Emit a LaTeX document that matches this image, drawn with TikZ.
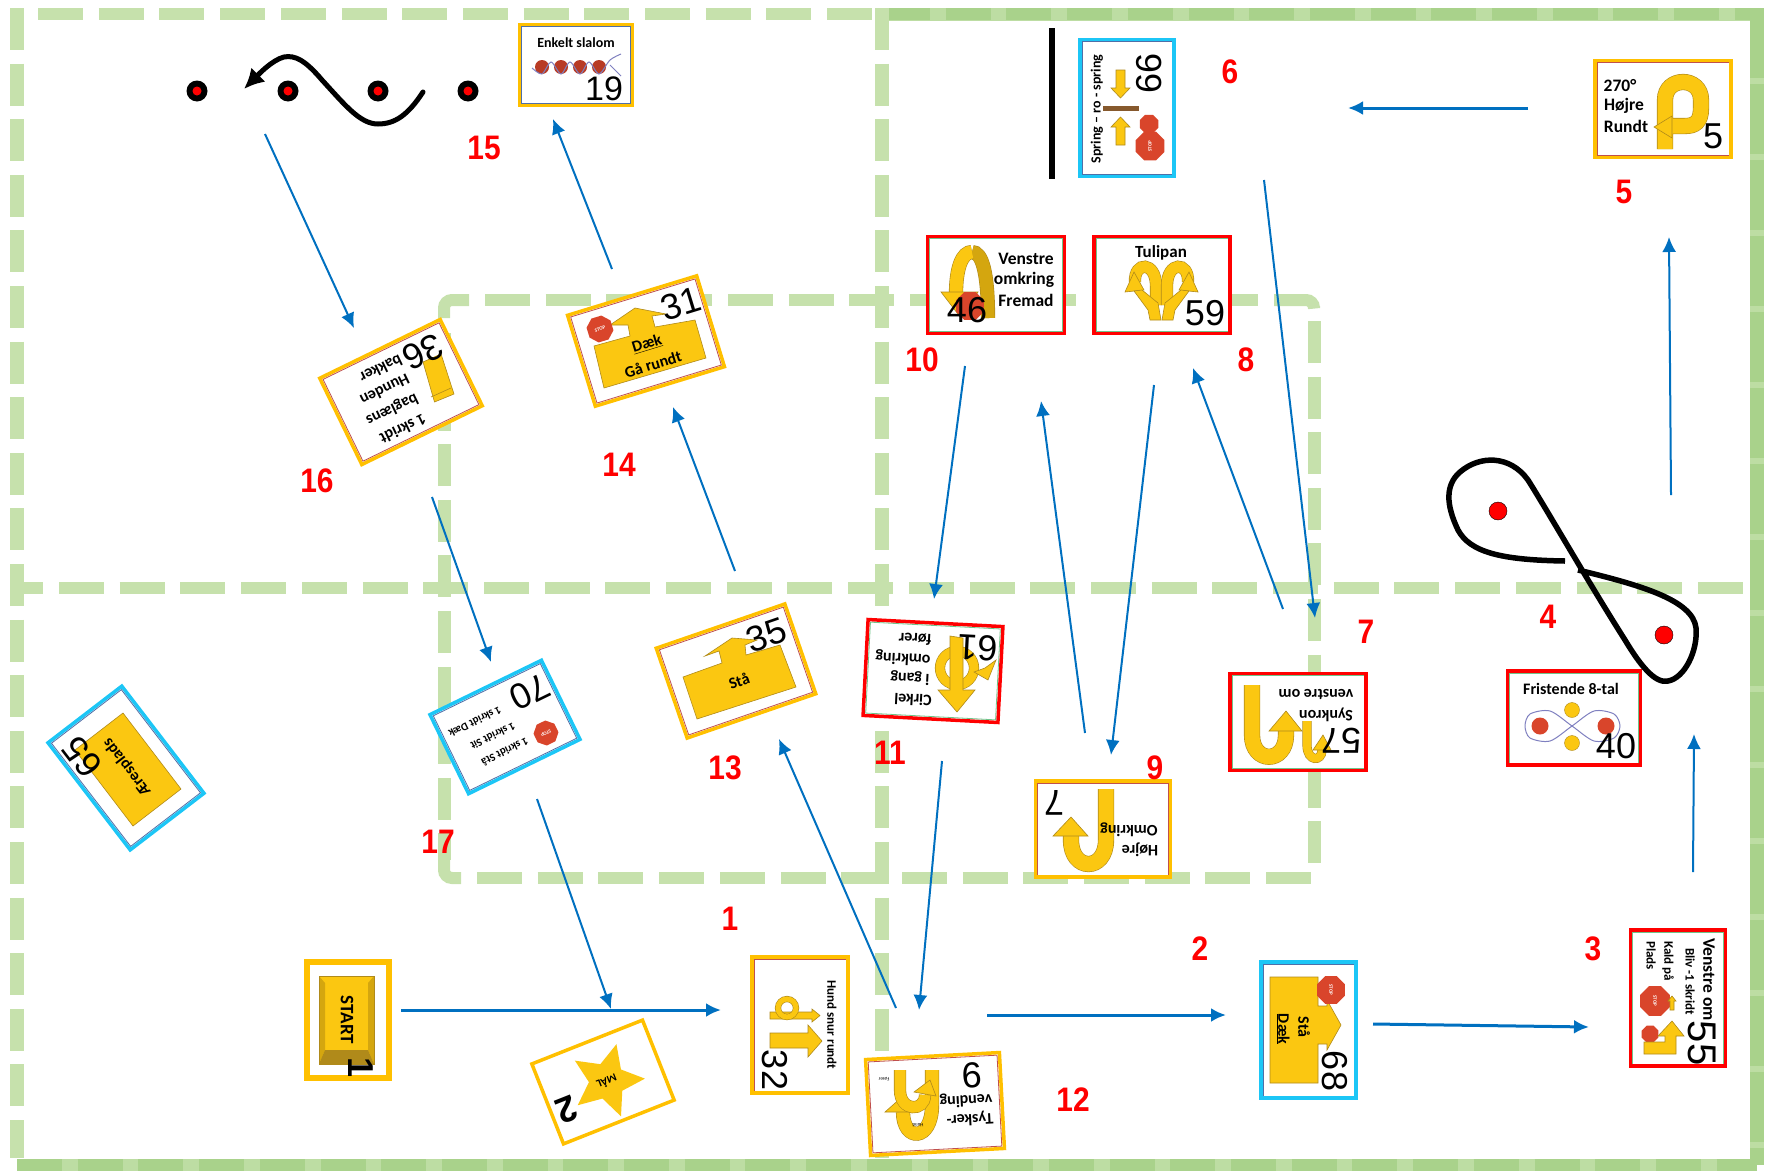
\documentclass[tikz,border=0pt]{standalone}
\usepackage{fontspec}
\setmainfont{Carlito}
\newfontfamily\numfont{Liberation Sans}
\newfontfamily\stepfont[FakeStretch=0.88]{Liberation Sans}
\usetikzlibrary{arrows.meta,shapes.geometric}
\definecolor{gline}{HTML}{C6E1AC}
\definecolor{gdense}{HTML}{BDDDA3}
\definecolor{gdark}{HTML}{A9D28B}
\definecolor{cardorange}{HTML}{FFC000}
\definecolor{cardred}{HTML}{FF0000}
\definecolor{cardcyan}{HTML}{1CC6F6}
\definecolor{rimred}{HTML}{C0504D}
\definecolor{rimgreen}{HTML}{70C48A}
\definecolor{rimblue}{HTML}{4F6FA8}
\definecolor{signyellow}{HTML}{FBC711}
\definecolor{signdark}{HTML}{D4A60F}
\definecolor{signedge}{HTML}{B08A1A}
\definecolor{stopred}{HTML}{D9452B}
\definecolor{flowblue}{HTML}{0070C0}
\definecolor{wavepurple}{HTML}{7F80C0}
\tikzset{
  hdash/.style={gline,line width=11.5pt,dash pattern=on 45pt off 15.7pt},
  vdash/.style={gline,line width=14pt,dash pattern=on 42pt off 13.6pt},
  hdense/.style={gdark,line width=11.5pt,dash pattern=on 45pt off 15.7pt},
  vdense/.style={gdark,line width=14pt,dash pattern=on 42pt off 13.6pt},
  card/.style={draw,fill=white,line width=3.5pt,inner sep=0pt},
  rim/.style={path picture={\draw[#1,line width=5pt] (path picture bounding box.south west) rectangle (path picture bounding box.north east);}},
  rimbox/.style={draw=#1,line width=.8pt,inner sep=0pt},
  num/.style={font=\numfont\fontsize{36}{36}\selectfont,inner sep=0pt},
  lab/.style={font=\bfseries\fontsize{16}{16}\selectfont,inner sep=0pt},
  biglab/.style={font=\bfseries\fontsize{17.5}{17.5}\selectfont,inner sep=0pt},
  smalllab/.style={font=\bfseries\fontsize{13}{13}\selectfont,inner sep=0pt},
  tiny/.style={font=\fontsize{5}{5}\selectfont,inner sep=0pt},
  stepno/.style={red,font=\stepfont\bfseries\fontsize{34}{34}\selectfont,inner sep=0pt},
  flow/.style={flowblue,line width=2pt,-{Latex[length=15pt,width=14pt]}},
  flowthick/.style={flow,line width=3pt},
  sign/.style={fill=signyellow,draw=signedge,line width=.6pt},
  band/.style={draw=signedge,line width=.6pt,double=signyellow,double distance=15pt},
  thinband/.style={band,double distance=8pt},
  stopsign/.style={regular polygon,regular polygon sides=8,fill=stopred,text=white,
    font=\bfseries\fontsize{5}{5}\selectfont,inner sep=0pt,minimum size=#1},
  cone/.style={circle,fill=black,minimum size=21pt,inner sep=0pt},
  conemid/.style={circle,fill=red,minimum size=9pt,inner sep=0pt},
  pathline/.style={line width=5pt,line cap=round},
}
\begin{document}
\begin{tikzpicture}[x=1pt,y=-1pt]
\useasboundingbox (0,0) rectangle (1769,1170);
% ring lines
\draw[hdash] (38,14) -- (885,14);
\draw[gdense,line width=13pt] (885,14) -- (1757,14);
\draw[hdense] (885,14) -- (1757,14);
\draw[gdense,line width=14pt] (1757,8) -- (1757,1165);
\draw[vdense,dash pattern=on 70pt off 6pt] (1757,8) -- (1757,1165);
\draw[gdense,line width=13pt] (17,1165) -- (1757,1165);
\draw[hdense] (17,1165) -- (1757,1165);
\draw[vdash] (17,8) -- (17,1158);
\draw[vdash] (882,8) -- (882,1158);
\draw[hdash,dash phase=16.7pt] (15,588) -- (1745,588);
% inner ring
\draw[hdash] (485,300) -- (1274,300);
\draw[hdash] (477,878) -- (1312,878);
\draw[vdash,line width=13pt] (444,333) -- (444,860);
\draw[vdash,line width=13pt] (1314,321) -- (1314,866);
\draw[gline,line width=12pt,rounded corners=8pt] (444,318) -- (444,300) -- (469,300);
\draw[gline,line width=12pt,rounded corners=8pt] (1274,300) -- (1314,300) -- (1314,306);
\draw[gline,line width=12pt,rounded corners=8pt] (444,860) -- (444,878) -- (461,878);
% signs, upper row
\node[card,draw=cardorange,rim=rimblue,minimum width=113pt,minimum height=81pt] (c19) at (576,65) {};
\node[lab,font=\bfseries\fontsize{14}{14}\selectfont] (t19) at (576,43) {Enkelt slalom};
\foreach \x/\i in {542/a,561/b,580/c,599/d}
  \node[circle,fill=stopred!85!black,minimum size=14pt,inner sep=0pt] (d19\i) at (\x,67) {};
\draw[wavepurple,line width=1pt] plot[smooth] coordinates {(532,68) (542,74) (551,62) (561,74) (570,62) (580,74) (589,62) (599,74) (610,60) (621,54)};
\draw[wavepurple,line width=1pt] (610,65) -- (621,76);
\node[num,font=\numfont\fontsize{34}{34}\selectfont] (n19) at (604,89) {19};
\node[card,draw=cardcyan,rim=rimblue,minimum width=94pt,minimum height=137pt] (c66) at (1127,108) {};
\node[lab,font=\bfseries\fontsize{14}{14}\selectfont,rotate=90] (t66) at (1097,109) {Spring -- ro - spring};
\node[num,rotate=90] (n66) at (1149,73) {66};
\draw[sign] (1116,70) -- (1125,70) -- (1125,88) -- (1130,88) -- (1120.5,98) -- (1111,88) -- (1116,88) -- cycle;
\draw[sign] (1116,145) -- (1125,145) -- (1125,127) -- (1130,127) -- (1120.5,117) -- (1111,127) -- (1116,127) -- cycle;
\fill[brown!70!black] (1103,106) rectangle (1139,111);
\node[stopsign=20pt,rotate=90] (s66a) at (1149,124) {};
\node[stopsign=31pt,rotate=90] (s66b) at (1150,146) {STOP};
\node[card,draw=cardorange,rim=rimred,minimum width=136pt,minimum height=97pt] (c5) at (1663,109) {};
\node[biglab] (t5a) at (1620,86) {270°};
\node[biglab] (t5b) at (1624,106) {Højre};
\node[biglab] (t5c) at (1626,126) {Rundt};
\draw[band] (1665,149) -- (1665,100) .. controls (1665,76) and (1701,76) .. (1701,100) -- (1701,108) .. controls (1701,122) and (1695,126) .. (1685,126) -- (1672,126);
\draw[sign] (1654,127) -- (1672,116) -- (1672,138) -- cycle;
\node[num] (n5) at (1713,136) {5};
\node[card,draw=cardred,rim=rimgreen,minimum width=137pt,minimum height=97pt] (c46) at (996,285) {};
\node[biglab] (t46a) at (1026,259) {Venstre};
\node[biglab] (t46b) at (1024,280) {omkring};
\node[biglab] (t46c) at (1026,300) {Fremad};
\draw[band,double=signdark,double distance=13pt] (972,252) .. controls (982,252) and (988,272) .. (988,318);
\draw[band,double distance=13pt] (972,252) .. controls (962,252) and (956,268) .. (956,294);
\draw[sign] (941,292) -- (978,292) -- (961,318) -- cycle;
\node[stopsign=30pt] (s46) at (970,306) {};
\node[num] (n46) at (967,310) {46};
\node[card,draw=cardred,rim=rimgreen,minimum width=136pt,minimum height=97pt] (c59) at (1162,285) {};
\node[lab,font=\bfseries\fontsize{17}{17}\selectfont] (t59) at (1161,253) {Tulipan};
\draw[band,double distance=11pt] (1156,305) -- (1156,286) .. controls (1156,261) and (1134,261) .. (1135,282);
\draw[band,double distance=11pt] (1167,305) -- (1167,286) .. controls (1167,261) and (1189,261) .. (1188,282);
\draw[sign] (1125,292) -- (1134,272) -- (1144,290) -- cycle;
\draw[sign] (1198,292) -- (1189,272) -- (1179,290) -- cycle;
\draw[sign] (1134,291) -- (1142,290) -- (1158,303) -- (1161,320) -- (1150,320) -- (1148,310) -- cycle;
\draw[sign] (1189,291) -- (1181,290) -- (1165,303) -- (1162,320) -- (1173,320) -- (1175,310) -- cycle;
\node[num] (n59) at (1205,313) {59};
% signs, tilted ones on the left
\node[card,draw=cardorange,rotate=17,minimum width=135pt,minimum height=95pt] (c31) at (646,341) {};
\node[rimbox=rimred,rotate=17,minimum width=130pt,minimum height=90pt] (r31) at (646,341) {};
\draw[sign] (594,346) -- (630,336) -- (628,325) -- (610,325) -- (635,308) -- (666,314) -- (652,316) -- (655,327) -- (695,320) -- (706,358) -- (604,388) -- cycle;
\node[stopsign=27pt,rotate=17] (s31) at (600,329) {STOP};
\node[num,rotate=17] (n31) at (681,304) {31};
\node[lab,rotate=17] (t31a) at (647,344) {\underline{Dæk}};
\node[lab,rotate=17] (t31b) at (653,364) {Gå rundt};
\node[card,draw=cardorange,rotate=206,minimum width=134pt,minimum height=96pt] (c36) at (401,392) {};
\node[rimbox=rimred,rotate=206,minimum width=129pt,minimum height=91pt] (r36) at (401,392) {};
\draw[sign] (423,362) -- (441,354) -- (454,394) -- (434.5,402) -- cycle;
\draw[signedge,line width=.6pt] (431,397) -- (451,388);
\node[num,rotate=206] (n36) at (423,352) {36};
\node[lab,rotate=206] (t36a) at (403,429) {1 skridt};
\node[lab,rotate=206] (t36b) at (392,409) {baglæns};
\node[lab,rotate=206] (t36c) at (385,390) {Hunden};
\node[lab,rotate=206] (t36d) at (381,369) {bakker};
\node[card,draw=cardcyan,rotate=206,minimum width=124pt,minimum height=88pt] (c70) at (505,727) {};
\node[rimbox=rimblue,rotate=206,minimum width=119pt,minimum height=83pt] (r70) at (505,727) {};
\node[num,rotate=206] (n70) at (530,692) {70};
\node[stopsign=25pt,rotate=206] (s70) at (546,733) {STOP};
\node[lab,font=\bfseries\fontsize{11}{11}\selectfont,rotate=206] (t70a) at (475,722) {1 skridt Dæk};
\node[lab,font=\bfseries\fontsize{11}{11}\selectfont,rotate=206] (t70b) at (493,736) {1 skridt Sit};
\node[lab,font=\bfseries\fontsize{11}{11}\selectfont,rotate=206] (t70c) at (505,752) {1 skridt Stå};
\node[card,draw=cardorange,rotate=19,minimum width=136pt,minimum height=95pt] (c35) at (736,671) {};
\node[rimbox=rimred,rotate=19,minimum width=131pt,minimum height=90pt] (r35) at (736,671) {};
\draw[sign] (683,677) -- (722,663) -- (719,651) -- (705,656) -- (732,638) -- (757,640) -- (745,645) -- (746,655) -- (780,645) -- (796,687) -- (697,719) -- cycle;
\node[num,rotate=19] (n35) at (766,635) {35};
\node[lab,rotate=19] (t35) at (739,681) {Stå};
\node[card,draw=cardcyan,rotate=127.5,minimum width=135pt,minimum height=93pt] (c65) at (126,768) {};
\node[rimbox=rimblue,rotate=127.5,minimum width=130pt,minimum height=88pt] (r65) at (126,768) {};
\draw[sign] (123,713) -- (181,789) -- (133,826) -- (75,750) -- cycle;
\node[num,rotate=127.5] (n65) at (82,757) {65};
\node[lab,rotate=127.5] (t65) at (127,767) {Æresplads};
% start and finish
\node[card,draw=cardorange,line width=6pt,minimum width=82pt,minimum height=116pt] (c1) at (348,1020) {};
\fill[signyellow] (319,976) rectangle (374,1064);
\fill[signdark] (319,976) -- (325,983) -- (325,1050) -- (319,1064) -- cycle;
\fill[signdark] (374,976) -- (368,983) -- (368,1050) -- (374,1064) -- cycle;
\fill[signedge] (319,1064) -- (325,1050) -- (368,1050) -- (374,1064) -- cycle;
\draw[signedge,line width=.6pt] (319,976) rectangle (374,1064);
\node[lab,font=\bfseries\fontsize{19}{19}\selectfont,rotate=-90] (t1) at (347,1020) {START};
\node[num,font=\numfont\bfseries\fontsize{36}{36}\selectfont,rotate=-90] (n1) at (361,1067) {1};
\node[card,draw=cardorange,rotate=201.6,minimum width=119pt,minimum height=86pt] (c2) at (603,1082) {};
\node[star,star points=5,star point ratio=2.1,fill=signyellow,minimum size=76pt,inner sep=0pt,rotate=201.6] (s2) at (607,1081) {};
\node[lab,font=\bfseries\fontsize{11}{11}\selectfont,rotate=201.6] (t2) at (607,1082) {MÅL};
\node[num,font=\numfont\bfseries\fontsize{36}{36}\selectfont,rotate=201.6] (n2) at (567,1110) {2};
\node[card,draw=cardorange,rim=rimred,minimum width=96pt,minimum height=136pt] (c32) at (800,1025) {};
\draw[sign] (770,1033) -- (808,1033) -- (808,1025) -- (822,1041) -- (808,1057) -- (808,1048) -- (770,1048) -- cycle;
\draw[sign] (770,1012) -- (812,1012) -- (812,1009) -- (820,1015.5) -- (812,1022) -- (812,1019) -- (770,1019) -- cycle;
\draw[band,double distance=5pt] (787,1008) circle (9pt);
\node[smalllab,rotate=-90] (t32) at (832,1025) {Hund snur rundt};
\node[num,rotate=-90] (n32) at (775,1070) {32};
% signs in the middle
\node[card,draw=cardred,rotate=177,minimum width=135pt,minimum height=96pt] (c61) at (933,671) {};
\node[rimbox=rimgreen,rotate=177,minimum width=130pt,minimum height=91pt] (r61) at (933,671) {};
\draw[band,double distance=9pt] (957,668) circle (17pt);
\draw[sign] (985,668) -- (996,660) -- (988,680) -- (974,672) -- cycle;
\draw[sign] (950,636) -- (963,638) -- (963,690) -- (975,690) -- (957,712) -- (938,690) -- (950,690) -- cycle;
\node[num,rotate=177] (n61) at (978,648) {61};
\node[lab,rotate=177] (t61a) at (915,639) {fører};
\node[lab,rotate=177] (t61b) at (903,658) {omkring};
\node[lab,rotate=177] (t61c) at (910,678) {i gang};
\node[lab,rotate=177] (t61d) at (913,700) {Cirkel};
\node[card,draw=cardorange,rotate=183,minimum width=134pt,minimum height=96pt] (c9) at (935,1104) {};
\node[rimbox=rimred,rotate=183,minimum width=129pt,minimum height=91pt] (r9) at (935,1104) {};
\draw[band,double distance=13pt] (932,1070) -- (932,1105) .. controls (932,1142) and (903,1142) .. (903,1112);
\draw[sign] (885,1112) -- (903,1096) -- (917,1112) -- cycle;
\draw[band,double distance=11pt] (900,1070) -- (900,1090) .. controls (900,1112) and (925,1112) .. (925,1095);
\draw[sign] (914,1092) -- (930,1080) -- (936,1096) -- cycle;
\node[num,rotate=183] (n9) at (972,1075) {9};
\node[lab,rotate=183] (t9a) at (970,1119) {Tysker-};
\node[lab,rotate=183] (t9b) at (966,1100) {vending};
\node[tiny,rotate=183] (t9c) at (884,1079) {Fører};
\node[tiny,rotate=183] (t9d) at (918,1125) {Hund};
\node[card,draw=cardorange,rim=rimred,minimum width=135pt,minimum height=96pt] (c7) at (1103,829) {};
\draw[band] (1106,789) -- (1106,840) .. controls (1106,872) and (1071,872) .. (1071,840) -- (1071,836);
\draw[sign] (1053,836) -- (1071,817) -- (1088,836) -- cycle;
\node[num,rotate=180] (n7) at (1054,803) {7};
\node[lab,rotate=180] (t7a) at (1129,830) {Omkring};
\node[lab,rotate=180] (t7b) at (1140,850) {Højre};
\node[card,draw=cardred,rim=rimgreen,minimum width=136pt,minimum height=97pt] (c57) at (1298,722) {};
\draw[band] (1252,685) -- (1252,735) .. controls (1252,764) and (1286,764) .. (1286,735) -- (1286,731);
\draw[sign] (1269,731) -- (1286,711) -- (1302,731) -- cycle;
\draw[thinband] (1307,721) -- (1307,745) .. controls (1307,762) and (1322,762) .. (1322,750);
\draw[sign] (1313,750) -- (1323,735) -- (1331,750) -- cycle;
\node[lab,rotate=180] (t57a) at (1316,694) {venstre om};
\node[lab,rotate=180] (t57b) at (1326,715) {Synkron};
\node[num,rotate=180] (n57) at (1341,741) {57};
\node[card,draw=cardred,rim=rimgreen,minimum width=133pt,minimum height=94pt] (c40) at (1574,718) {};
\node[lab] (t40) at (1571,689) {Fristende 8-tal};
\draw[wavepurple,line width=1pt] plot[smooth cycle] coordinates {(1572,726) (1550,741) (1530,738) (1525,726) (1530,714) (1550,711) (1572,726) (1594,741) (1614,738) (1620,726) (1614,714) (1594,711)};
\node[circle,fill=stopred,minimum size=17pt,inner sep=0pt] (d40a) at (1540,726) {};
\node[circle,fill=stopred,minimum size=17pt,inner sep=0pt] (d40b) at (1606,726) {};
\node[circle,fill=signyellow,draw=signedge,minimum size=15pt,inner sep=0pt] (d40c) at (1572,710) {};
\node[circle,fill=signyellow,draw=signedge,minimum size=15pt,inner sep=0pt] (d40d) at (1572,743) {};
\node[num] (n40) at (1616,746) {40};
% signs at the bottom right
\node[card,draw=cardcyan,rim=rimblue,minimum width=95pt,minimum height=136pt] (c68) at (1308.5,1030) {};
\draw[sign] (1270,977) -- (1318,977) -- (1318,1006) -- (1327,1006) -- (1327,1000) -- (1341,1025) -- (1327,1050) -- (1327,1044) -- (1318,1044) -- (1318,1083) -- (1270,1083) -- cycle;
\node[stopsign=30pt,rotate=-90] (s68) at (1331,990) {STOP};
\node[lab,rotate=-90] (t68a) at (1304,1027) {Stå};
\node[lab,rotate=-90] (t68b) at (1283,1029) {\underline{Dæk}};
\node[num,rotate=-90] (n68) at (1335,1071) {68};
\node[card,draw=cardred,rim=rimgreen,minimum width=95pt,minimum height=136pt] (c55) at (1678,998) {};
\node[biglab,anchor=west,rotate=-90] (t55a) at (1709,938) {Venstre om};
\node[smalllab,anchor=west,rotate=-90] (t55b) at (1690,948) {Bliv -1 skridt};
\node[smalllab,anchor=west,rotate=-90] (t55c) at (1668,941) {Kald på};
\node[smalllab,anchor=west,rotate=-90] (t55d) at (1651,941) {Plads};
\node[stopsign=32pt,rotate=-90] (s55a) at (1655,1001) {STOP};
\node[stopsign=18pt,rotate=-90] (s55b) at (1650,1034) {};
\draw[sign] (1644,1042) -- (1665,1042) -- (1665,1036) -- (1658,1036) -- (1672,1021) -- (1684,1036) -- (1676,1036) -- (1676,1054) -- (1644,1054) -- cycle;
\draw[sign] (1670,1010) -- (1670,1001) -- (1668,1001) -- (1672,996) -- (1676,1001) -- (1674,1001) -- (1674,1010) -- cycle;
\node[num,font=\numfont\fontsize{40}{40}\selectfont,rotate=-90] (n55) at (1702,1043) {55};
% the cones and the black lines
\foreach \x/\i in {197/a,288/b,378/c,468/d} {
  \node[cone] (k\i) at (\x,91) {};
  \node[conemid] (m\i) at (\x,91) {};
}
\draw[pathline,-{Latex[length=20pt,width=20pt]}] (423,92) .. controls (408,115) and (395,124) .. (378,124) .. controls (360,124) and (345,105) .. (322,80) .. controls (305,60) and (295,55) .. (284,57) .. controls (272,60) and (258,75) .. (244,89);
\fill[black] (1048.5,28) rectangle (1054.5,179);
\draw[pathline,line width=5.5pt,line cap=butt] (1565,561) .. controls (1500,560) and (1470,552) .. (1458,530) .. controls (1446,505) and (1445,485) .. (1460,472) .. controls (1480,455) and (1510,455) .. (1528,480) .. controls (1550,515) and (1590,585) .. (1625,640) .. controls (1640,665) and (1655,684) .. (1668,681) .. controls (1685,678) and (1698,650) .. (1696,628) .. controls (1693,600) and (1640,585) .. (1578,570);
\node[circle,fill=red,draw=black,minimum size=18pt,inner sep=0pt] (k4a) at (1498,511) {};
\node[circle,fill=red,draw=black,minimum size=18pt,inner sep=0pt] (k4b) at (1664,635) {};
% step numbers
\node[stepno] (s1) at (730,919) {1};
\node[stepno] (s2n) at (1200,949) {2};
\node[stepno] (s3) at (1593,949) {3};
\node[stepno] (s4) at (1548,617) {4};
\node[stepno] (s5) at (1624,192) {5};
\node[stepno] (s6) at (1230,72) {6};
\node[stepno] (s7) at (1366,632) {7};
\node[stepno] (s8) at (1246,360) {8};
\node[stepno] (s9) at (1155,768) {9};
\node[stepno] (s10) at (922,360) {10};
\node[stepno] (s11) at (890,753) {11};
\node[stepno] (s12) at (1073,1100) {12};
\node[stepno] (s13) at (725,768) {13};
\node[stepno] (s14) at (619,465) {14};
\node[stepno] (s15) at (484,148) {15};
\node[stepno] (s16) at (317,481) {16};
\node[stepno] (s17) at (438,842) {17};
% route
\coordinate (r1a) at (401,1010); \coordinate (r1b) at (721,1010);
\coordinate (r2a) at (987,1015); \coordinate (r2b) at (1226,1015);
\coordinate (r3a) at (1373,1024); \coordinate (r3b) at (1589,1027);
\coordinate (r4a) at (1693,872); \coordinate (r4b) at (1694,734);
\coordinate (r5a) at (1671,495); \coordinate (r5b) at (1669,237);
\coordinate (r6a) at (1528,108); \coordinate (r6b) at (1348,108);
\coordinate (r7a) at (1264,180); \coordinate (r7b) at (1315,618);
\coordinate (r8a) at (1283,609); \coordinate (r8b) at (1193,368);
\coordinate (r9a) at (1154,385); \coordinate (r9b) at (1111,755);
\coordinate (r10a) at (1085,733); \coordinate (r10b) at (1041,401);
\coordinate (r11a) at (965,366); \coordinate (r11b) at (934,599);
\coordinate (r12a) at (942,761); \coordinate (r12b) at (919,1010);
\coordinate (r13a) at (896,1008); \coordinate (r13b) at (779,739);
\coordinate (r14a) at (735,571); \coordinate (r14b) at (673,407);
\coordinate (r15a) at (612,269); \coordinate (r15b) at (553,119);
\coordinate (r16a) at (265,134); \coordinate (r16b) at (354,328);
\coordinate (r17a) at (432,497); \coordinate (r17b) at (491,662);
\coordinate (r18a) at (537,799); \coordinate (r18b) at (611,1009);
\draw[flowthick] (r1a) -- (r1b);
\draw[flowthick] (r2a) -- (r2b);
\draw[flowthick] (r3a) -- (r3b);
\draw[flow] (r4a) -- (r4b);
\draw[flow] (r5a) -- (r5b);
\draw[flowthick] (r6a) -- (r6b);
\draw[flow] (r7a) -- (r7b);
\draw[flow] (r8a) -- (r8b);
\draw[flow] (r9a) -- (r9b);
\draw[flow] (r10a) -- (r10b);
\draw[flow] (r11a) -- (r11b);
\draw[flow] (r12a) -- (r12b);
\draw[flow] (r13a) -- (r13b);
\draw[flow] (r14a) -- (r14b);
\draw[flow] (r15a) -- (r15b);
\draw[flow] (r16a) -- (r16b);
\draw[flow] (r17a) -- (r17b);
\draw[flow] (r18a) -- (r18b);
\end{tikzpicture}
\end{document}
